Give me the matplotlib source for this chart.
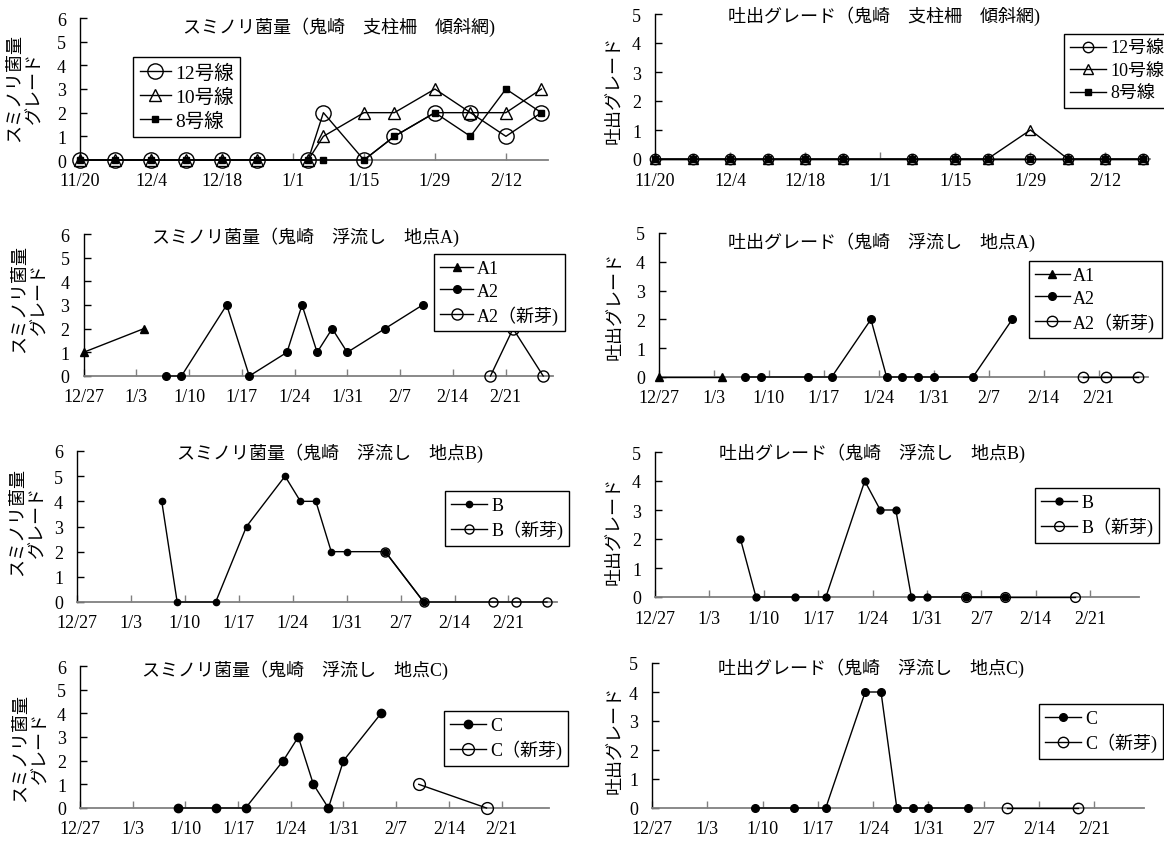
import datetime as dt
import matplotlib
matplotlib.use('Agg')
import matplotlib.pyplot as plt
import matplotlib.dates as mdates

plt.rcParams['font.family'] = ['Liberation Serif', 'Noto Sans CJK JP']
plt.rcParams['font.size'] = 13

W, H = 1164, 845

# 支柱柵 傾斜網（11/20～）
net_dates = ['11/20', '11/27', '12/4', '12/11', '12/18', '12/25', '1/4', '1/7',
             '1/15', '1/21', '1/29', '2/5', '2/12', '2/19']
net_sumi_12 = [0, 0, 0, 0, 0, 0, 0, 2, 0, 1, 2, 2, 1, 2]
net_sumi_10 = [0, 0, 0, 0, 0, 0, 0, 1, 2, 2, 3, 2, 2, 3]
net_sumi_8 = [0, 0, 0, 0, 0, 0, 0, 0, 0, 1, 2, 1, 3, 2]

net_spit_dates = ['11/20', '11/27', '12/4', '12/11', '12/18', '12/25', '1/7',
                  '1/15', '1/21', '1/29', '2/5', '2/12', '2/19']
net_spit_12 = [0, 0, 0, 0, 0, 0, 0, 0, 0, 0, 0, 0, 0]
net_spit_10 = [0, 0, 0, 0, 0, 0, 0, 0, 0, 1, 0, 0, 0]
net_spit_8 = [0, 0, 0, 0, 0, 0, 0, 0, 0, 0, 0, 0, 0]

# 浮流し 地点A
a1_dates = ['12/27', '1/4']
a1_sumi = [1, 2]
a1_spit = [0, 0]
a2_dates = ['1/7', '1/9', '1/15', '1/18', '1/23', '1/25', '1/27', '1/29', '1/31', '2/5', '2/10']
a2_sumi = [0, 0, 3, 0, 1, 3, 1, 2, 1, 2, 3]
a2_spit = [0, 0, 0, 0, 2, 0, 0, 0, 0, 0, 2]
a2n_dates = ['2/19', '2/22', '2/26']
a2n_sumi = [0, 2, 0]
a2n_spit = [0, 0, 0]

# 浮流し 地点B
b_dates = ['1/7', '1/9', '1/14', '1/18', '1/23', '1/25', '1/27', '1/29', '1/31', '2/5', '2/10']
b_sumi = [4, 0, 0, 3, 5, 4, 4, 2, 2, 2, 0]
b_spit = [2, 0, 0, 0, 4, 3, 3, 0, 0, 0, 0]
bn_sumi_dates = ['2/5', '2/10', '2/19', '2/22', '2/26']
bn_sumi = [2, 0, 0, 0, 0]
bn_spit_dates = ['2/5', '2/10', '2/19']
bn_spit = [0, 0, 0]

# 浮流し 地点C
c_dates = ['1/9', '1/14', '1/18', '1/23', '1/25', '1/27', '1/29', '1/31', '2/5']
c_sumi = [0, 0, 0, 2, 3, 1, 0, 2, 4]
c_spit = [0, 0, 0, 4, 4, 0, 0, 0, 0]
cn_dates = ['2/10', '2/19']
cn_sumi = [1, 0]
cn_spit = [0, 0]

ticks_net = ['11/20', '12/4', '12/18', '1/1', '1/15', '1/29', '2/12']
ticks_float = ['12/27', '1/3', '1/10', '1/17', '1/24', '1/31', '2/7', '2/14', '2/21']


def day(s):
    m, d = map(int, s.split('/'))
    return mdates.date2num(dt.date(2004 if m >= 10 else 2005, m, d))


def days(lst):
    return [day(s) for s in lst]


fig = plt.figure(figsize=(W / 100, H / 100), dpi=100)


def panel(rect, ymax, ticks, span, title, tpos, ylabel, ypos):
    l, t, r, b = rect
    ax = fig.add_axes([l / W, 1 - b / H, (r - l) / W, (b - t) / H])
    x0 = day(ticks[0])
    ax.set_xlim(x0, x0 + span)
    ax.set_ylim(0, ymax)
    ax.set_xticks(days(ticks))
    ax.set_xticklabels(ticks)
    ax.set_yticks(range(ymax + 1))
    for s in ['top', 'right']:
        ax.spines[s].set_visible(False)
    ax.spines['left'].set_color('k')
    ax.spines['left'].set_linewidth(1.0)
    ax.spines['bottom'].set_color('#808080')
    ax.spines['bottom'].set_linewidth(1.3)
    ax.tick_params(axis='x', direction='in', length=5, width=1, color='#808080', pad=9)
    ax.tick_params(axis='y', direction='in', length=5, width=1, color='k', pad=10)
    ax.patch.set_alpha(0)
    fig.text(tpos[0] / W, 1 - tpos[1] / H, title, ha='center', va='center')
    fig.text(ypos[0] / W, 1 - ypos[1] / H, ylabel, rotation=90, ha='center', va='center',
             multialignment='center', linespacing=1.3)
    return ax


def series(ax, dates, vals, marker, ms, filled, label):
    ax.plot(days(dates), vals, color='k', lw=1.0, marker=marker, ms=ms,
            mfc='k' if filled else 'none', mec='k', mew=1.0,
            clip_on=False, zorder=3, label=label)


def legend(ax, pos, handlelength=1.8, fontsize=13):
    leg = ax.legend(loc='upper left', bbox_to_anchor=(pos[0] / W, 1 - pos[1] / H),
                    bbox_transform=fig.transFigure, fancybox=False, edgecolor='k',
                    framealpha=1, borderpad=0.35, borderaxespad=0, handlelength=handlelength,
                    handletextpad=0.2, labelspacing=0.3, fontsize=fontsize)
    leg.get_frame().set_linewidth(1.0)
    return leg


sumi_label = 'スミノリ菌量\nグレード'
spit_label = '吐出グレード'

# 1段目：支柱柵
ax = panel((80, 19, 548, 161), 6, ticks_net, 92.3, 'スミノリ菌量（鬼崎　支柱柵　傾斜網)',
           (339, 27), sumi_label, (25, 88))
series(ax, net_dates, net_sumi_12, 'o', 11, False, '12号線')
series(ax, net_dates, net_sumi_10, '^', 8.5, False, '10号線')
series(ax, net_dates, net_sumi_8, 's', 5, True, '8号線')
legend(ax, (133, 58), 1.6, 14)

ax = panel((655, 15, 1150, 160), 5, ticks_net, 92.3, '吐出グレード（鬼崎　支柱柵　傾斜網)',
           (884, 16), spit_label, (614, 90))
series(ax, net_spit_dates, net_spit_12, 'o', 7.5, False, '12号線')
series(ax, net_spit_dates, net_spit_10, '^', 7, False, '10号線')
series(ax, net_spit_dates, net_spit_8, 's', 4.5, True, '8号線')
legend(ax, (1064, 35), 2.0)

# 2段目：地点A
ax = panel((83.5, 235, 553, 377), 6, ticks_float, 62.3, 'スミノリ菌量（鬼崎　浮流し　地点A)',
           (306, 237), sumi_label, (30, 299))
series(ax, a1_dates, a1_sumi, '^', 6, True, 'A1')
series(ax, a2_dates, a2_sumi, 'o', 5.5, True, 'A2')
series(ax, a2n_dates, a2n_sumi, 'o', 8, False, 'A2（新芽)')
legend(ax, (434, 255), 1.8)

ax = panel((659, 234, 1148, 378), 5, ticks_float, 62.3, '吐出グレード（鬼崎　浮流し　地点A)',
           (882, 242), spit_label, (615, 306))
series(ax, a1_dates, a1_spit, '^', 6, True, 'A1')
series(ax, a2_dates, a2_spit, 'o', 5.5, True, 'A2')
series(ax, a2n_dates, a2n_spit, 'o', 7.5, False, 'A2（新芽)')
legend(ax, (1029, 262), 1.9)

# 3段目：地点B
ax = panel((77, 452, 557, 603), 6, ticks_float, 62.3, 'スミノリ菌量（鬼崎　浮流し　地点B)',
           (330, 453), sumi_label, (28, 522))
series(ax, b_dates, b_sumi, 'o', 4.5, True, 'B')
series(ax, bn_sumi_dates, bn_sumi, 'o', 6.5, False, 'B（新芽)')
legend(ax, (445, 492), 2.0)

ax = panel((655, 453, 1139, 598), 5, ticks_float, 62.3, '吐出グレード（鬼崎　浮流し　地点B)',
           (872, 453), spit_label, (614, 531))
series(ax, b_dates, b_spit, 'o', 5, True, 'B')
series(ax, bn_spit_dates, bn_spit, 'o', 7, False, 'B（新芽)')
legend(ax, (1035, 489), 2.0)

# 4段目：地点C
ax = panel((80, 667, 549, 809), 6, ticks_float, 62.3, 'スミノリ菌量（鬼崎　浮流し　地点C)',
           (295, 670), sumi_label, (31, 748))
series(ax, c_dates, c_sumi, 'o', 6, True, 'C')
series(ax, cn_dates, cn_sumi, 'o', 8.5, False, 'C（新芽)')
legend(ax, (444, 712), 2.0)

ax = panel((652, 664, 1144, 809), 5, ticks_float, 62.3, '吐出グレード（鬼崎　浮流し　地点C)',
           (871, 668), spit_label, (615, 740))
series(ax, c_dates, c_spit, 'o', 5.5, True, 'C')
series(ax, cn_dates, cn_spit, 'o', 7.5, False, 'C（新芽)')
legend(ax, (1039, 705), 2.0)

fig.savefig('out.png', dpi=100)
